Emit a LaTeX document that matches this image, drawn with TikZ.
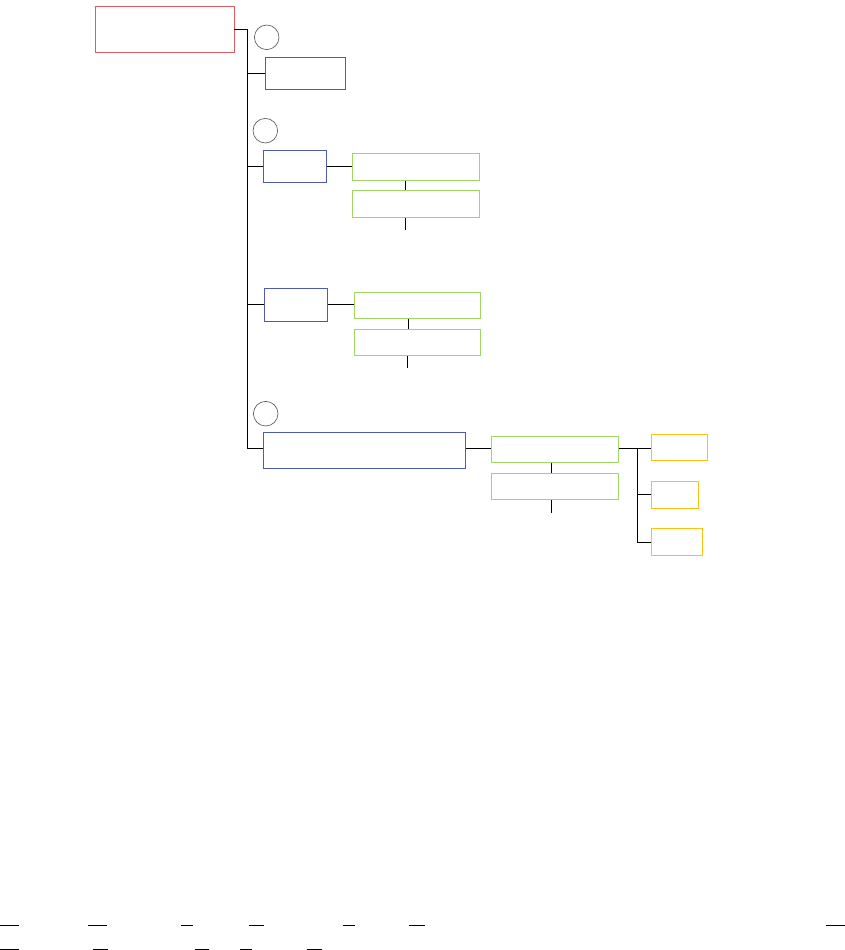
\documentclass[tikz,border=0pt]{standalone}
\definecolor{rootred}{RGB}{224,90,100}
\definecolor{bluebox}{RGB}{80,90,175}
\definecolor{greenbox}{RGB}{160,215,100}
\definecolor{orangebox}{RGB}{255,192,20}
\definecolor{circgray}{RGB}{80,80,80}
\tikzset{
  box/.style={draw, rectangle, inner sep=0pt, line width=0.9pt},
  rootbox/.style={box, draw=rootred},
  bbox/.style={box, draw=bluebox},
  gbox/.style={box, draw=greenbox},
  obox/.style={box, draw=orangebox},
  num/.style={draw=circgray, circle, inner sep=0pt, minimum size=24.6pt, line width=0.6pt},
  conn/.style={draw=black, line width=0.9pt},
  dashmark/.style={draw=black, line width=1pt}
}
\begin{document}
\begin{tikzpicture}[x=1pt,y=-1pt]
\useasboundingbox (0,0) rectangle (845,950);
% nodes
\node[rootbox, minimum width=139pt, minimum height=46pt] (root) at (164.5,29) {};
\node[num] (n1) at (266.7,37.3) {};
\node[bbox, minimum width=80pt, minimum height=32pt] (A) at (305,73.3) {};
\node[num] (n2) at (265.3,130.7) {};
\node[bbox, minimum width=63.7pt, minimum height=32pt] (B) at (295,166.3) {};
\node[gbox, minimum width=127pt, minimum height=27pt] (B1) at (416.2,166.8) {};
\node[gbox, minimum width=127pt, minimum height=27pt] (B2) at (416.2,203.8) {};
\node[bbox, minimum width=63pt, minimum height=32.3pt] (C) at (295.8,304.8) {};
\node[gbox, minimum width=126.7pt, minimum height=26.4pt] (C1) at (417.3,305.5) {};
\node[gbox, minimum width=126.7pt, minimum height=26.4pt] (C2) at (417.3,342.7) {};
\node[num] (n3) at (265.7,413.7) {};
\node[bbox, minimum width=202.7pt, minimum height=35.3pt] (D) at (364.3,450.3) {};
\node[gbox, minimum width=127.4pt, minimum height=26pt] (D1) at (555,449.3) {};
\node[gbox, minimum width=127.4pt, minimum height=26pt] (D2) at (555,486.3) {};
\node[obox, minimum width=55.7pt, minimum height=26.4pt] (E1) at (679.2,447.5) {};
\node[obox, minimum width=47.7pt, minimum height=27pt] (E2) at (674.9,494.8) {};
\node[obox, minimum width=51.7pt, minimum height=26.6pt] (E3) at (676.9,542) {};
% trunk
\coordinate (ttop) at (247,29);
\coordinate (tbot) at (247,448.3);
\coordinate (branch) at (637.3,448.3);
\coordinate (bbot) at (637.3,542.3);
\draw[conn] (root.east) -- (ttop) -- (tbot) -- (tbot -| D.west);
\draw[conn] (ttop |- A.west) -- (A.west);
\draw[conn] (ttop |- B.west) -- (B.west);
\draw[conn] (ttop |- C.west) -- (C.west);
% second level
\draw[conn] (B.east) -- (B.east -| B1.west);
\draw[conn] (C.east) -- (C.east -| C1.west);
\draw[conn] (tbot -| D.east) -- (tbot -| D1.west);
\draw[conn] ([xshift=-10.5pt]B1.south) -- ([xshift=-10.5pt]B2.north);
\draw[conn] ([xshift=-9pt]C1.south) -- ([xshift=-9pt]C2.north);
\draw[conn] ([xshift=-3.7pt]D1.south) -- ([xshift=-3.7pt]D2.north);
\draw[conn] ([xshift=-10.5pt]B2.south) -- ++(0,12) coordinate (tailB);
\draw[conn] ([xshift=-10pt]C2.south) -- ++(0,12) coordinate (tailC);
\draw[conn] ([xshift=-3.7pt]D2.south) -- ++(0,13) coordinate (tailD);
% third level
\draw[conn] (tbot -| D1.east) -- (branch) -- (branch -| E1.west);
\draw[conn] (branch) -- (bbot) -- (bbot -| E3.west);
\draw[conn] (branch |- E2.west) -- (E2.west);
% bottom marks
\foreach \a/\b in {0/19, 87.7/106.7, 181/192.7, 249.3/264, 342.7/355, 409.3/425, 826/845}
  \draw[dashmark] (\a,925) -- (\b,925);
\foreach \a/\b in {0/19, 92.7/107.7, 195/209, 240/251.7, 306.7/321.7}
  \draw[dashmark] (\a,949.2) -- (\b,949.2);
\end{tikzpicture}
\end{document}
